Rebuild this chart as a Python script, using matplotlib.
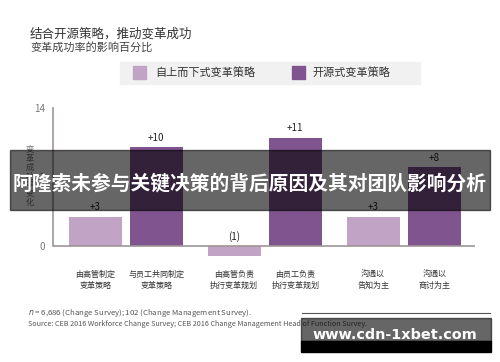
import numpy as np
import matplotlib.pyplot as plt
from matplotlib.patches import Rectangle

plt.rcParams['font.family'] = ['Noto Sans CJK SC', 'DejaVu Sans']

# data
categories = ['由高管制定\n变革策略', '与员工共同制定\n变革策略',
              '由高管负责\n执行变革规划', '由员工负责\n执行变革规划',
              '沟通以\n告知为主', '沟通以\n商讨为主']
series_names = ['自上而下式变革策略', '开源式变革策略']
top_down = [3, -1, 3]
open_source = [10, 11, 8]
value_labels_top = ['+3', '(1)', '+3']
value_labels_open = ['+10', '+11', '+8']
yticks = [0, 7, 14]

light = '#c1a3c5'
dark = '#80548f'
axis_col = '#a09696'

W, H = 500, 362
fig = plt.figure(figsize=(W / 100, H / 100), dpi=100)


def fx(px):
    return px / W


def fy(py):
    return 1 - py / H


ax = fig.add_axes([fx(53), fy(257), fx(475) - fx(53), fy(108) - fy(257)])
groups = np.arange(3)
off, bw = 0.22, 0.38
ax.bar(groups - off, top_down, bw, color=light)
ax.bar(groups + off, open_source, bw, color=dark)
ax.set_xlim(-0.523, 2.513)
ax.set_ylim(-1.1, 14)

for g in groups:
    v = top_down[g]
    ax.text(g - off, max(v, 0) + 0.45, value_labels_top[g], ha='center', va='bottom',
            fontsize=7, color='#222222')
    ax.text(g + off, open_source[g] + 0.45, value_labels_open[g], ha='center', va='bottom',
            fontsize=7, color='#222222')

ax.axhline(0, color=axis_col, lw=1.2)
for s in ['top', 'right', 'bottom']:
    ax.spines[s].set_visible(False)
ax.spines['left'].set_bounds(0, 14)
ax.spines['left'].set_color(axis_col)
ax.spines['left'].set_linewidth(1.2)
ax.set_yticks(yticks)
ax.tick_params(axis='y', length=0, labelsize=7, labelcolor='#777777', pad=6)
ax.set_xticks([])

# category labels under bars
xpos = np.ravel(np.column_stack([groups - off, groups + off]))
for x, lab in zip(xpos, categories):
    ax.text(x, -2.4, lab, ha='center', va='top', fontsize=5.8, color='#333333',
            linespacing=1.35, clip_on=False)

# y label stacked vertical
fig.text(fx(30), fy(176), '\n'.join('变革成功率变化'), ha='center', va='center',
         fontsize=6, color='#777777', linespacing=0.98)

# title
fig.text(fx(30), fy(34), '结合开源策略，推动变革成功', ha='left', va='center',
         fontsize=9, color='#333333')
fig.text(fx(30), fy(47), '变革成功率的影响百分比', ha='left', va='center',
         fontsize=8, color='#444444', style='italic')

# legend
fig.patches.append(Rectangle((fx(120), fy(84)), fx(420) - fx(120), fy(62) - fy(84),
                             transform=fig.transFigure, color='#f1f1f1', zorder=0))
fig.patches.append(Rectangle((fx(133), fy(79)), fx(13), fy(66) - fy(79),
                             transform=fig.transFigure, color=light))
fig.text(fx(155), fy(72.5), series_names[0], ha='left', va='center', fontsize=8, color='#333333')
fig.patches.append(Rectangle((fx(292), fy(79)), fx(13), fy(66) - fy(79),
                             transform=fig.transFigure, color=dark))
fig.text(fx(312), fy(72.5), series_names[1], ha='left', va='center', fontsize=8, color='#333333')

# footnotes
fig.text(fx(28), fy(313), '$n$ = 6,686 (Change Survey); 102 (Change Management Survey).',
         ha='left', va='center', fontsize=5.6, color='#555555')
fig.lines.append(plt.Line2D([fx(302), fx(490)], [fy(313), fy(313)],
                            transform=fig.transFigure, color='#555555', lw=0.8))
fig.text(fx(28), fy(324), 'Source: CEB 2016 Workforce Change Survey; CEB 2016 Change Management Head of Function Survey.',
         ha='left', va='center', fontsize=5.2, color='#555555')

# banner overlay
fig.patches.append(Rectangle((fx(10), fy(210)), fx(480), fy(150) - fy(210),
                             transform=fig.transFigure, color='black', alpha=0.6, zorder=5))
fig.text(fx(250), fy(184), '阿隆索未参与关键决策的背后原因及其对团队影响分析', ha='center', va='center',
         fontsize=14.2, color='white', fontweight='bold', zorder=6)

# watermark
fig.patches.append(Rectangle((fx(301), fy(341)), fx(190), fy(318) - fy(341),
                             transform=fig.transFigure, color='black', alpha=0.6, zorder=5))
fig.patches.append(Rectangle((fx(301), fy(352)), fx(190), fy(341) - fy(352),
                             transform=fig.transFigure, color='black', zorder=5))
fig.text(fx(395), fy(335), 'www.cdn-1xbet.com', ha='center', va='center',
         fontsize=10.4, color='white', fontweight='bold', family='DejaVu Sans', zorder=6)

fig.savefig('out.png', dpi=100)
